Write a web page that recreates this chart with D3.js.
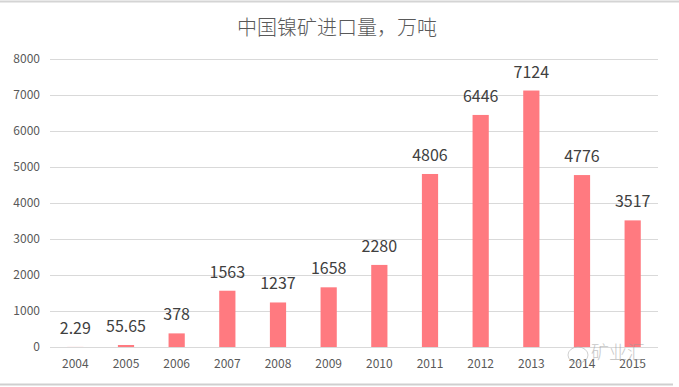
<!DOCTYPE html>
<html>
<head>
<meta charset="utf-8">
<script src="https://cdn.jsdelivr.net/npm/d3@7"></script>
<style>
  body { margin: 0; background: #fff; }
  text { font-family: "Noto Sans CJK SC", "Open Sans", sans-serif; }
</style>
</head>
<body>
<svg id="chart" width="679" height="387"></svg>
<script>
const years = ['2004', '2005', '2006', '2007', '2008', '2009', '2010', '2011', '2012', '2013', '2014', '2015'];
const imports = [2.29, 55.65, 378, 1563, 1237, 1658, 2280, 4806, 6446, 7124, 4776, 3517];
const yTicks = [0, 1000, 2000, 3000, 4000, 5000, 6000, 7000, 8000];
const title = '中国镍矿进口量，万吨';

const width = 679, height = 387;
const plotLeft = 50, plotRight = 658, plotTop = 59, plotBottom = 347;

const svg = d3.select('#chart');

// frame lines of the screenshot
svg.append('line').attr('x1', 0).attr('x2', width).attr('y1', 1.5).attr('y2', 1.5)
   .attr('stroke', '#d4d4d4').attr('stroke-width', 2);
svg.append('line').attr('x1', 0).attr('x2', 673).attr('y1', 384.5).attr('y2', 384.5)
   .attr('stroke', '#cfcfcf').attr('stroke-width', 2);

const x = d3.scaleBand().domain(years).range([plotLeft, plotRight]).paddingInner(0.68).paddingOuter(0.34);
const y = d3.scaleLinear().domain([0, 8000]).range([plotBottom, plotTop]);

// gridlines
svg.append('g')
   .selectAll('line')
   .data(yTicks)
   .enter()
   .append('line')
   .attr('x1', plotLeft)
   .attr('x2', plotRight)
   .attr('y1', d => Math.round(y(d)) + 0.5)
   .attr('y2', d => Math.round(y(d)) + 0.5)
   .attr('stroke', '#d9d9d9')
   .attr('stroke-width', 1);

// y axis labels
const yAxis = svg.append('g')
   .attr('transform', `translate(${plotLeft - 9},0)`)
   .call(d3.axisLeft(y).tickValues(yTicks).tickFormat(d3.format('d')).tickSize(0).tickPadding(1));
yAxis.select('.domain').remove();
yAxis.selectAll('text').attr('fill', '#595959').style('font-size', '12px');

// x axis labels
const xAxis = svg.append('g')
   .attr('transform', `translate(0,${plotBottom + 10})`)
   .call(d3.axisBottom(x).tickSize(0).tickPadding(2));
xAxis.select('.domain').remove();
xAxis.selectAll('text').attr('fill', '#595959').style('font-size', '12px');

const data = years.map((yr, i) => ({ year: yr, value: imports[i] }));

svg.append('g')
   .selectAll('rect')
   .data(data)
   .enter()
   .append('rect')
   .attr('x', d => x(d.year))
   .attr('width', x.bandwidth())
   .attr('y', d => y(d.value))
   .attr('height', d => plotBottom - y(d.value))
   .attr('fill', '#ff7a80');

svg.append('g')
   .selectAll('text')
   .data(data)
   .enter()
   .append('text')
   .attr('x', d => x(d.year) + x.bandwidth() / 2)
   .attr('y', d => y(d.value) - 13)
   .attr('text-anchor', 'middle')
   .attr('fill', '#404040')
   .style('font-size', '16px')
   .text(d => d.value);

svg.append('text')
   .attr('x', 337)
   .attr('y', 35)
   .attr('text-anchor', 'middle')
   .attr('fill', '#595959')
   .style('font-size', '20px')
   .style('font-weight', 300)
   .text(title);

// watermark
svg.append('text')
   .attr('x', 618)
   .attr('y', 359)
   .attr('text-anchor', 'middle')
   .attr('fill', '#9a9a9a')
   .attr('opacity', 0.55)
   .style('font-size', '18px')
   .style('font-weight', 300)
   .text('矿业汇');
svg.append('ellipse')
   .attr('cx', 578).attr('cy', 355).attr('rx', 10).attr('ry', 8)
   .attr('fill', 'none').attr('stroke', '#b0b0b0').attr('opacity', 0.6);
</script>
</body>
</html>
